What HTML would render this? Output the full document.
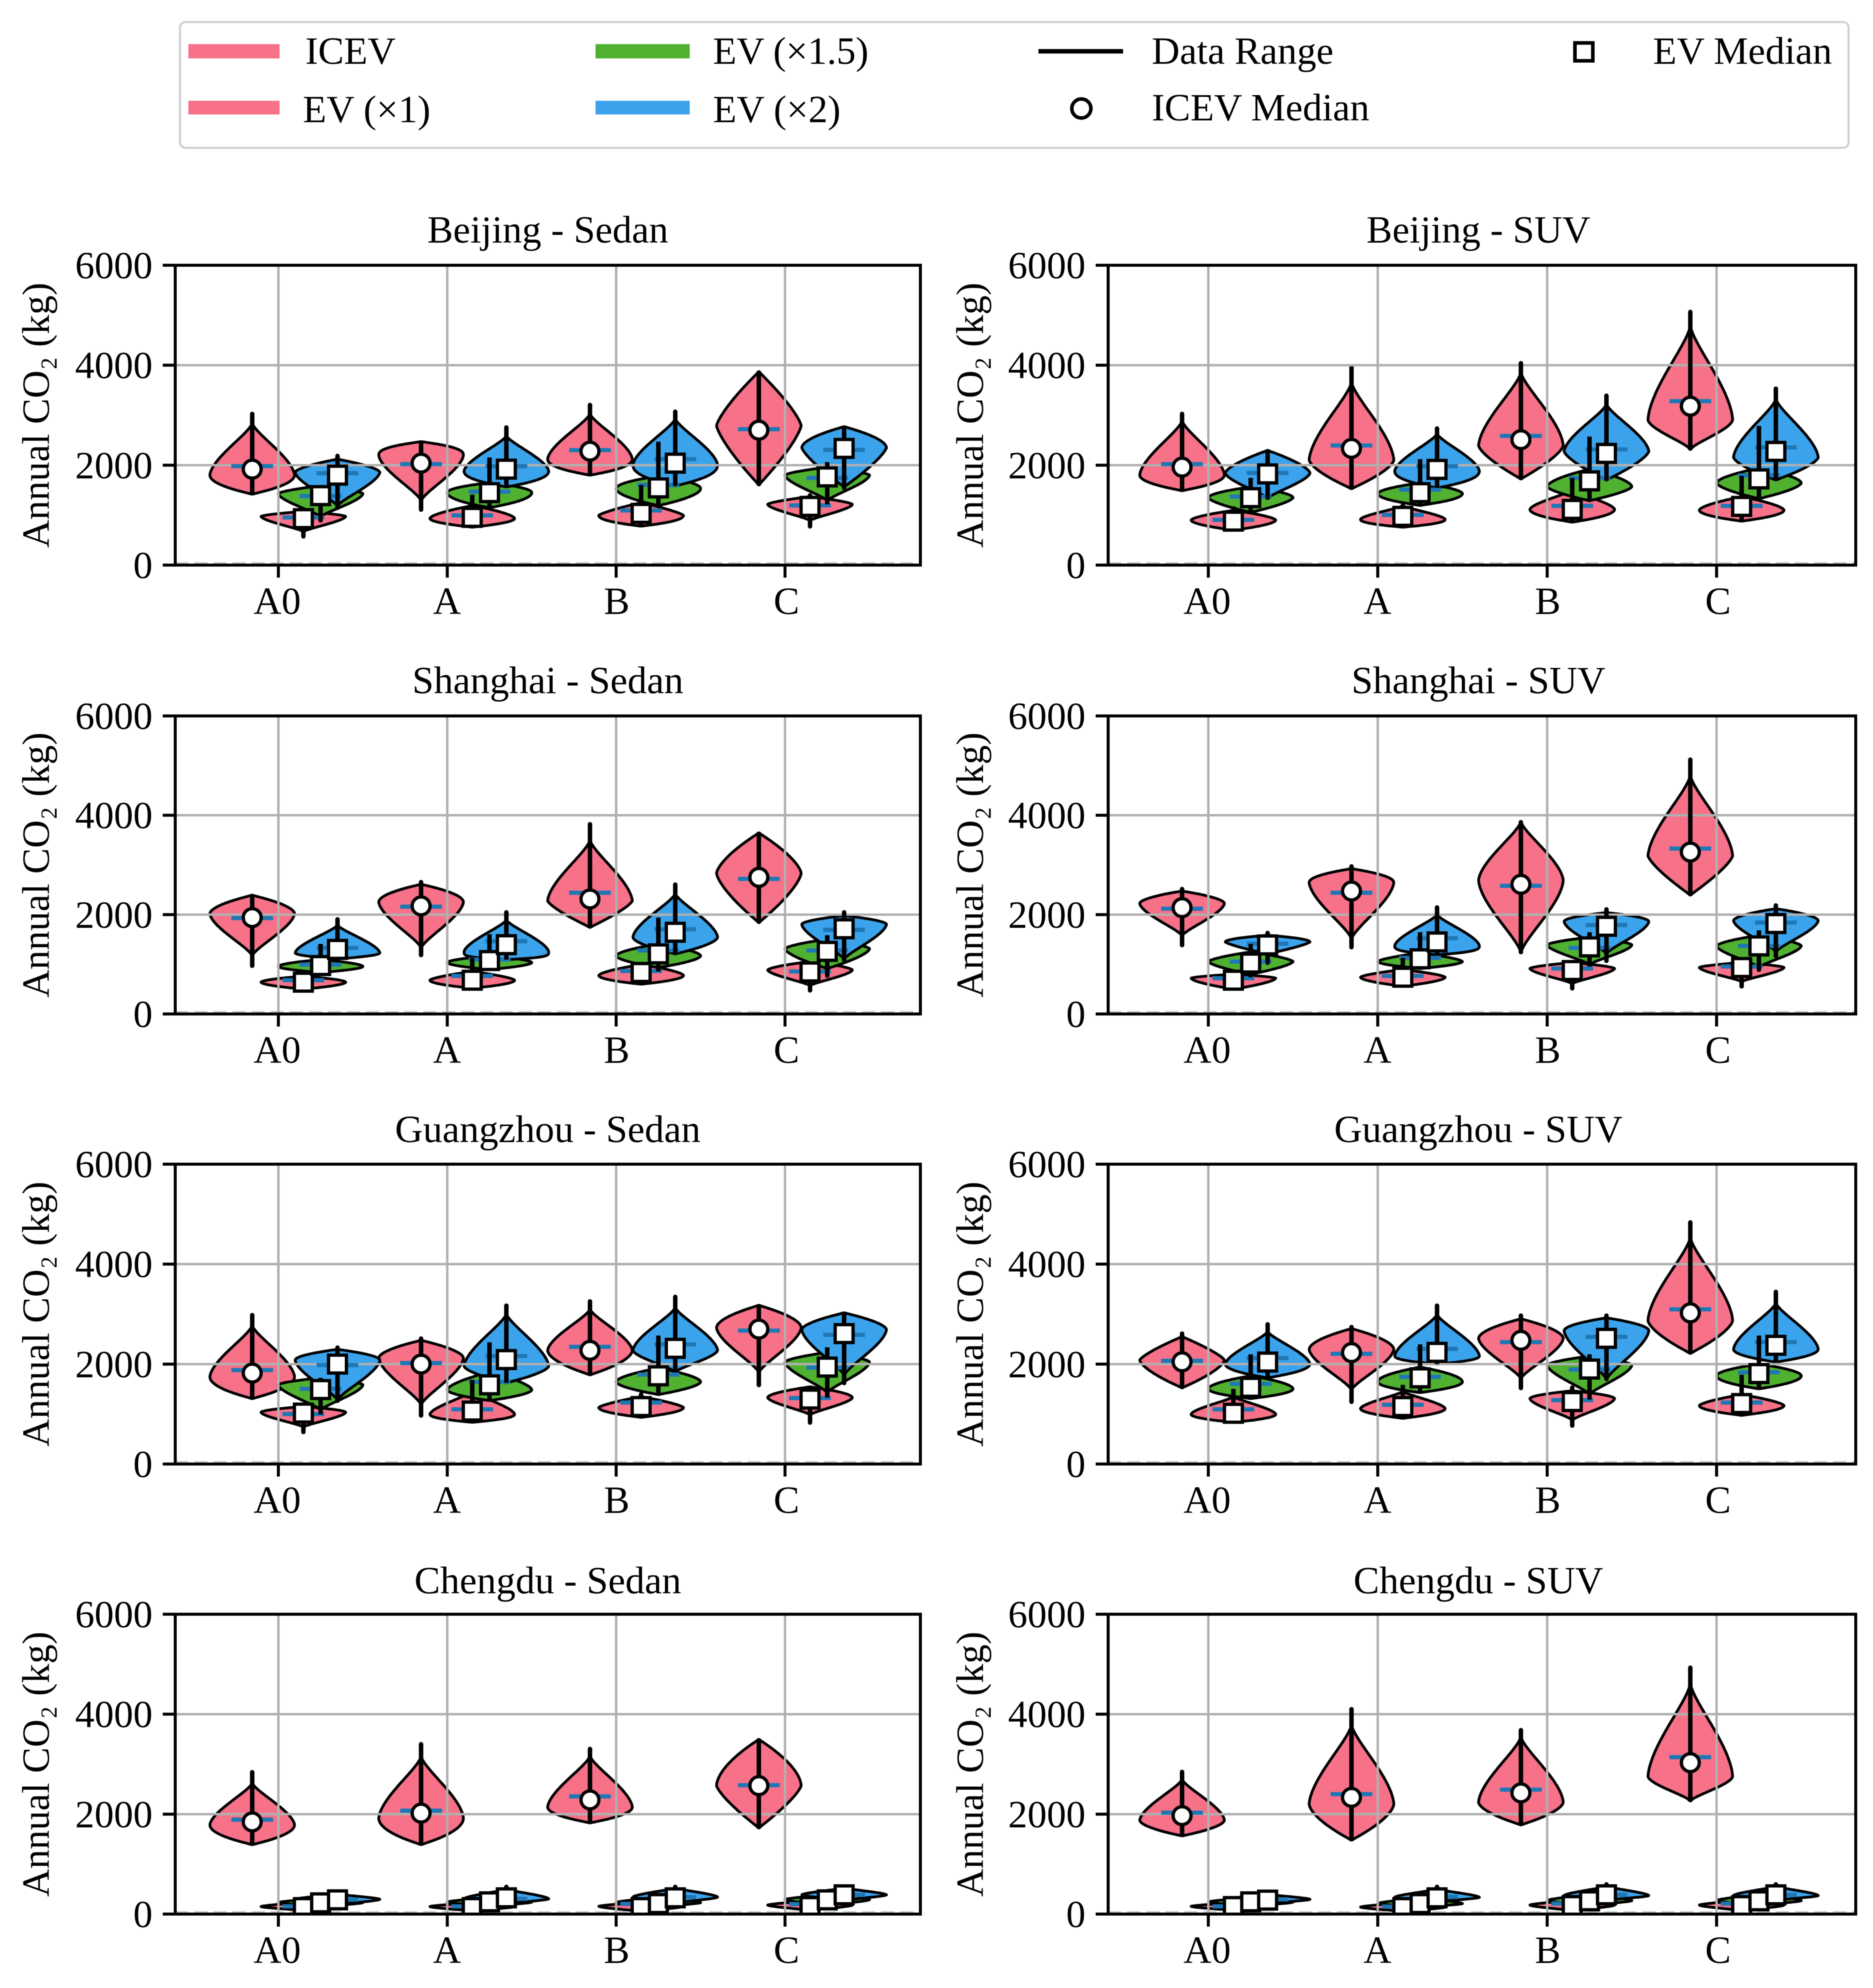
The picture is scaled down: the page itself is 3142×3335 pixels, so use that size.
<!DOCTYPE html>
<html lang="en">
<head>
<meta charset="utf-8">
<title>Annual CO2 violin charts by city and body type</title>
<style>
html,body{margin:0;padding:0;background:#fff;}
svg{display:block;filter:blur(0.9px);}
text{font-family:"Liberation Serif","DejaVu Serif",serif;fill:#000;font-size:65px;}
</style>
</head>
<body>
<svg id="chart" xmlns="http://www.w3.org/2000/svg" width="3142" height="3335" viewBox="0 0 3142 3335">
  <rect x="0" y="0" width="3142" height="3335" fill="#ffffff"/>
  <g id="legend">
    <rect x="302" y="37" width="2799" height="211" rx="9" fill="#fff" stroke="#cfcfcf" stroke-width="3.5"/>
    <rect x="316" y="74" width="153" height="24" fill="#f77189"/>
    <text x="512" y="107">ICEV</text>
    <rect x="316" y="169" width="153" height="23" fill="#f77189"/>
    <text x="508" y="205">EV (×1)</text>
    <rect x="999" y="74" width="158" height="24" fill="#50b131"/>
    <text x="1196" y="107" textLength="261">EV (×1.5)</text>
    <rect x="999" y="169" width="158" height="23" fill="#3ba3ec"/>
    <text x="1196" y="205">EV (×2)</text>
    <line x1="1742" y1="86" x2="1884" y2="86" stroke="#000" stroke-width="7.5"/>
    <text x="1932" y="107">Data Range</text>
    <circle cx="1814" cy="182" r="16" fill="#fff" stroke="#000" stroke-width="6"/>
    <text x="1932" y="202">ICEV Median</text>
    <rect x="2642" y="72" width="30" height="30" fill="#fff" stroke="#000" stroke-width="6"/>
    <text x="2773" y="107">EV Median</text>
  </g>
  <g id="panels"></g>
</svg>
<script>
const categories = ['A0', 'A', 'B', 'C'];
const seriesNames = ['icev', 'ev-1', 'ev-1-5', 'ev-2'];
const seriesColors = ['#f77189', '#f77189', '#50b131', '#3ba3ec'];
const seriesOffsets = [-0.155, 0.148, 0.25, 0.35];
const yTicks = [0, 2000, 4000, 6000];
const panelTitles = [
  'Beijing - Sedan', 'Beijing - SUV',
  'Shanghai - Sedan', 'Shanghai - SUV',
  'Guangzhou - Sedan', 'Guangzhou - SUV',
  'Chengdu - Sedan', 'Chengdu - SUV'
];

// Each row, in kg: [low, high, EV/ICEV median marker, median bar, widest level, body foot, body tip, top roundness, bottom roundness]
const beijingSedan = [
  [1420,3040,1920,1980,1800,1420,2710,1.1,2],
  [560,1075,930,955,975,740,1075,1.5,1.2],
  [880,1590,1390,1380,1430,1015,1590,1.5,1],
  [1130,2200,1800,1840,1860,1210,2120,1.6,1.1],
  [1095,2470,2040,2020,2200,1410,2470,2.5,1.1],
  [760,1410,955,995,935,760,1190,1.6,2],
  [1150,2155,1450,1470,1450,1150,1650,2,2],
  [1565,2770,1920,1980,1880,1565,2470,1.1,2.2],
  [1800,3220,2280,2300,2120,1800,2905,1.2,2.2],
  [780,1605,1035,1095,995,780,1250,1.3,2.2],
  [1190,2470,1545,1605,1530,1190,1780,2,1.8],
  [1585,3085,2040,2120,2000,1585,2830,1.15,2.2],
  [1605,3870,2700,2720,2790,1605,3870,1.3,1.3],
  [760,1410,1175,1195,1215,975,1370,1.5,1.1],
  [1215,2060,1765,1745,1800,1330,1960,1.5,1],
  [1530,2770,2335,2305,2350,1565,2770,1.8,1.3]
];
const beijingSUV = [
  [1490,3040,1960,2020,1800,1490,2790,1.2,2],
  [700,1175,880,905,900,700,1095,1.6,1.8],
  [1055,1745,1350,1370,1350,1055,1565,1.8,1.5],
  [1330,2295,1825,1845,1845,1330,2295,1.5,1.05],
  [1530,3970,2335,2395,2100,1530,3460,1.15,1.5],
  [760,1210,975,1005,915,760,1175,1.2,2.2],
  [1195,2120,1450,1510,1430,1195,1645,1.8,2],
  [1545,2750,1915,1980,1880,1545,2550,1.2,2.2],
  [1725,4055,2510,2585,2390,1725,3730,1.15,1.4],
  [860,1745,1115,1185,1115,860,1350,1.2,2],
  [1290,2570,1685,1745,1570,1290,1920,1.7,1.5],
  [1705,3405,2235,2315,2275,1705,3100,1.2,1.4],
  [2315,5080,3180,3280,2905,2315,4600,1.15,1.15],
  [880,1785,1175,1185,1100,880,1370,1.6,2],
  [1330,2785,1725,1795,1645,1330,1940,1.7,1.6],
  [1705,3545,2275,2355,2155,1705,3180,1.2,1.5]
];
const shanghaiSedan = [
  [955,2390,1940,1930,2020,1310,2390,1.8,1.1],
  [500,760,640,680,640,500,760,1.8,1.8],
  [835,1410,975,995,955,835,1095,1.8,1.8],
  [1110,1920,1300,1330,1230,1110,1705,1.1,2],
  [1170,2670,2175,2160,2255,1430,2610,1.9,1.1],
  [520,1130,680,765,680,520,855,1.5,2],
  [895,1605,1075,1095,1035,895,1170,1.8,1.8],
  [1095,2060,1395,1465,1250,1095,1785,1.05,4],
  [1745,3835,2315,2440,2275,1745,3280,1.2,1.3],
  [600,995,835,865,775,600,995,1.6,2],
  [855,1940,1210,1280,1170,935,1410,1.7,1.7],
  [1210,2620,1645,1705,1545,1210,2295,1.15,1.7],
  [1840,3645,2750,2720,2830,1840,3645,1.5,1.4],
  [460,1055,845,855,885,640,1055,1.6,1.1],
  [755,1585,1260,1280,1310,915,1505,1.6,1.5],
  [1075,2060,1715,1695,1805,1110,1980,1.8,1.2]
];
const shanghaiSUV = [
  [1370,2530,2140,2120,2225,1705,2475,1.8,1.2],
  [500,875,680,720,720,500,800,1.6,1.6],
  [740,1410,1025,1055,1055,800,1250,1.5,1.5],
  [1015,1645,1390,1415,1450,1210,1585,2,1.3],
  [1330,2985,2475,2440,2650,1625,2925,2,1.2],
  [560,1130,740,765,740,560,895,1.5,1.8],
  [915,1645,1110,1130,1055,915,1230,1.5,1.8],
  [1190,2160,1450,1525,1370,1190,1900,1.1,3],
  [1230,3875,2610,2580,2690,1230,3875,1.1,1.1],
  [500,1035,875,915,915,680,1035,1.6,1.1],
  [955,1645,1350,1330,1390,1015,1545,1.6,1.1],
  [1055,2120,1765,1790,1860,1310,2040,2,1.1],
  [2395,5135,3260,3330,3180,2395,4585,1.2,1.3],
  [540,1035,935,955,935,720,1035,1.6,1.1],
  [875,1685,1370,1370,1370,975,1585,1.6,1.1],
  [1150,2200,1820,1840,1880,1310,2120,1.8,1.1]
];
const guangzhouSedan = [
  [1310,2995,1820,1880,1745,1310,2630,1.15,2],
  [625,1150,1020,1000,1035,815,1150,1.8,1.2],
  [995,1725,1490,1505,1585,1130,1725,1.6,1],
  [1250,2345,2000,1980,2080,1290,2295,1.9,1.1],
  [955,2525,2000,2020,2120,1330,2475,1.8,1.05],
  [835,1685,1060,1095,995,835,1310,1.1,2.2],
  [1270,2435,1585,1645,1485,1270,1840,1.6,1.8],
  [1625,3185,2090,2160,1960,1625,2890,1.1,1.6],
  [1785,3270,2275,2345,2275,1785,2985,1.15,1.8],
  [935,1410,1150,1230,1130,935,1350,1.4,2],
  [1390,2570,1765,1790,1645,1390,1920,1.7,1.7],
  [1840,3360,2315,2395,2275,1840,2985,1.1,1.2],
  [1565,3175,2700,2670,2730,2000,3175,1.8,1.15],
  [815,1545,1300,1320,1330,1095,1545,1.8,1.2],
  [1330,2335,1940,1930,2040,1485,2235,1.6,1.05],
  [1605,3025,2610,2585,2690,1880,3025,1.7,1.1]
];
const guangzhouSUV = [
  [1525,2625,2045,2065,2080,1525,2550,1.3,1.5],
  [835,1505,1015,1095,995,835,1250,1.1,2],
  [1310,2195,1535,1605,1505,1310,1765,1.8,2],
  [1725,2810,2040,2120,2000,1725,2550,1.15,2],
  [1230,2755,2230,2205,2295,1645,2710,1.8,1.1],
  [915,1585,1150,1185,1110,915,1370,1.2,2],
  [1430,2395,1725,1745,1645,1430,1940,1.9,2],
  [2000,3185,2235,2305,2160,2000,2870,1.1,2.2],
  [1505,2985,2475,2440,2515,1840,2905,1.8,1.1],
  [755,1545,1250,1280,1310,955,1465,1.8,1.1],
  [1290,2195,1900,1890,1980,1450,2160,1.6,1.05],
  [1685,2985,2515,2545,2670,1685,2925,1.9,1.15],
  [2215,4850,3025,3095,2870,2215,4330,1.15,1.5],
  [975,1785,1210,1230,1170,975,1390,1.5,2],
  [1505,2570,1810,1835,1765,1505,2000,1.9,2],
  [2040,3460,2375,2440,2295,2040,3065,1.2,2]
];
const chengduSedan = [
  [1390,2855,1845,1890,1785,1390,2470,1.2,2],
  [70,240,130,155,150,70,240],
  [140,340,225,230,230,150,310],
  [170,420,285,290,295,200,390],
  [1390,3415,2020,2070,1920,1390,2985,1.2,2],
  [60,230,130,155,150,60,230],
  [150,350,245,240,240,160,330],
  [190,560,325,305,305,220,460],
  [1825,3320,2285,2355,2140,1825,3065,1.2,2],
  [50,240,130,205,155,50,240],
  [140,360,210,230,230,150,330],
  [210,560,325,340,340,230,500],
  [1725,3495,2570,2580,2570,1725,3495,1.7,1.3],
  [70,270,150,200,180,70,270],
  [160,420,285,300,290,180,380],
  [270,560,385,385,385,280,500]
];
const chengduSUV = [
  [1565,2860,1970,2030,1880,1565,2590,1.2,1.8],
  [70,230,150,155,155,70,230],
  [150,360,245,240,240,160,330],
  [200,420,280,295,295,220,380],
  [1480,4115,2335,2400,2200,1480,3575,1.2,1.6],
  [50,230,130,150,140,50,230],
  [130,360,210,230,210,140,310],
  [240,560,325,345,335,250,460],
  [1785,3695,2425,2490,2240,1785,3455,1.2,1.7],
  [60,280,170,210,180,70,280],
  [160,440,265,285,270,180,380],
  [270,610,385,385,370,280,520],
  [2265,4945,3030,3140,2750,2265,4400,1.15,1.2],
  [60,280,170,210,180,70,280],
  [160,440,265,285,270,180,380],
  [270,610,385,385,370,280,520]
];
const panelData = [beijingSedan, beijingSUV, shanghaiSedan, shanghaiSUV, guangzhouSedan, guangzhouSUV, chengduSedan, chengduSUV];

const NS = 'http://www.w3.org/2000/svg';
const rowBottoms = [948, 1701, 2456, 3211];
const rowHeights = [503, 500, 503, 503];
const titleBaselines = [407, 1163, 1916, 2673];
const columns = [
  { left: 294, right: 1544, x0: 467, step: 283.3, label: 82, titleX: 919 },
  { left: 1859, right: 3113, x0: 2027, step: 284.2, label: 1649, titleX: 2480 }
];
const yMax = 6000;
const violinHalf = 71;

function mk(tag, attrs, parent) {
  const el = document.createElementNS(NS, tag);
  for (const k in attrs) el.setAttribute(k, attrs[k]);
  parent.appendChild(el);
  return el;
}

function slug(s) {
  return s.toLowerCase().replace(/[^a-z0-9]+/g, '-');
}

// side profile: p below 1.3 gives a bullet shape running into a concave spire, otherwise a rounded cap
function sideWidth(dist, reach, p) {
  if (reach <= 0 || dist > reach) return 0;
  const t = dist / reach;
  if (p < 1.3) return Math.pow(1 - Math.pow(t, 1.6), 1.4);
  return 1 - Math.pow(t, p);
}

function densityAt(v, r) {
  const lo = r[0], hi = r[1], mode = r[4], foot = r[5], tip = r[6];
  const pUp = r[7] === undefined ? 1.1 : r[7];
  const pDown = r[8] === undefined ? 1.1 : r[8];
  let w;
  if (v >= mode) {
    const end = pUp < 1.3 ? tip + 0.4 * (hi - tip) : tip;
    w = sideWidth(v - mode, end - mode, pUp);
  } else {
    const end = pDown < 1.3 ? foot - 0.4 * (foot - lo) : foot;
    w = sideWidth(mode - v, mode - end, pDown);
  }
  return Math.max(w, 0.012);
}

function violinPath(r, cx, yScale) {
  const lo = r[0], hi = r[1];
  const levels = [r[4], r[5], r[6]];
  const n = 60;
  for (let i = 0; i <= n; i++) levels.push(lo + (hi - lo) * i / n);
  const sorted = levels.filter(v => v >= lo && v <= hi).sort((a, b) => a - b);
  const rightSide = sorted.map(v => (cx + violinHalf * densityAt(v, r)).toFixed(1) + ' ' + yScale(v).toFixed(1));
  const leftSide = sorted.slice().reverse().map(v => (cx - violinHalf * densityAt(v, r)).toFixed(1) + ' ' + yScale(v).toFixed(1));
  return 'M' + rightSide.concat(leftSide).join('L') + 'Z';
}

const panelsRoot = document.getElementById('panels');

panelTitles.forEach(function (title, p) {
  const col = columns[p % 2];
  const rowIdx = Math.floor(p / 2);
  const bottom = rowBottoms[rowIdx];
  const axisHeight = rowHeights[rowIdx];
  const top = bottom - axisHeight;
  const rows = panelData[p];
  const yScale = v => bottom - v * axisHeight / yMax;
  const xScale = pos => col.x0 + pos * col.step;
  const base = slug(title);

  const g = mk('g', {}, panelsRoot);
  
  

  const clipId = 'clip-' + p;
  const clip = mk('clipPath', { id: clipId }, g);
  mk('rect', { x: col.left, y: top, width: col.right - col.left, height: axisHeight }, clip);

  const titleEl = mk('text', { x: col.titleX, y: titleBaselines[rowIdx], 'text-anchor': 'middle' }, g);
  titleEl.textContent = title;
  
  

  const ylab = mk('text', {
    x: 0, y: 0, 'text-anchor': 'middle',
    transform: 'translate(' + col.label + ' ' + (top + axisHeight / 2) + ') rotate(-90)'
  }, g);
  ylab.textContent = 'Annual CO₂ (kg)';
  
  

  const marks = mk('g', { 'clip-path': 'url(#' + clipId + ')' }, g);
  
  

  // violin bodies go under the grid, as in the source figure
  seriesNames.forEach(function (sName, s) {
    categories.forEach(function (cat, c) {
      const r = rows[c * 4 + s];
      const cx = xScale(c + seriesOffsets[s]);
      const body = mk('path', {
        d: violinPath(r, cx, yScale), fill: seriesColors[s], stroke: '#000',
        'stroke-width': 4.6, 'stroke-linejoin': 'round'
      }, marks);
      
      
    });
  });

  // zero reference line
  const zero = mk('line', {
    x1: col.left, x2: col.right, y1: yScale(0) - 3, y2: yScale(0) - 3,
    stroke: '#cccccc', 'stroke-width': 4, 'stroke-dasharray': '22 10'
  }, marks);
  
  

  // grid
  yTicks.forEach(function (t) {
    const gl = mk('line', {
      x1: col.left, x2: col.right, y1: yScale(t), y2: yScale(t),
      stroke: '#b0b0b0', 'stroke-width': 4
    }, marks);
    
    
  });
  categories.forEach(function (cat, c) {
    const gl = mk('line', {
      x1: xScale(c), x2: xScale(c), y1: top, y2: bottom,
      stroke: '#b0b0b0', 'stroke-width': 4
    }, marks);
    
    
  });

  // median bars
  seriesNames.forEach(function (sName, s) {
    categories.forEach(function (cat, c) {
      const r = rows[c * 4 + s];
      const cx = xScale(c + seriesOffsets[s]);
      const bar = mk('line', {
        x1: cx - 35, x2: cx + 35, y1: yScale(r[3]), y2: yScale(r[3]),
        stroke: '#1f77b4', 'stroke-width': 7
      }, marks);
      
      
    });
  });

  // data range whiskers
  seriesNames.forEach(function (sName, s) {
    categories.forEach(function (cat, c) {
      const r = rows[c * 4 + s];
      const cx = xScale(c + seriesOffsets[s]);
      const wh = mk('line', {
        x1: cx, x2: cx, y1: yScale(r[0]), y2: yScale(r[1]),
        stroke: '#000', 'stroke-width': 7.5
      }, marks);
      
      
    });
  });

  // median markers
  seriesNames.forEach(function (sName, s) {
    categories.forEach(function (cat, c) {
      const r = rows[c * 4 + s];
      const cx = xScale(c + seriesOffsets[s]);
      const cy = yScale(r[2]);
      let m;
      if (s === 0) {
        m = mk('circle', { cx: cx, cy: cy, r: 15, fill: '#fff', stroke: '#000', 'stroke-width': 5.5 }, marks);
      } else {
        m = mk('rect', { x: cx - 15, y: cy - 15, width: 30, height: 30, fill: '#fff', stroke: '#000', 'stroke-width': 5.5 }, marks);
      }
      
      
    });
  });

  // frame, ticks and labels
  const frame = mk('rect', {
    x: col.left, y: top, width: col.right - col.left, height: axisHeight,
    fill: 'none', stroke: '#000', 'stroke-width': 5
  }, g);
  
  

  yTicks.forEach(function (t) {
    const tk = mk('line', {
      x1: col.left - 21, x2: col.left, y1: yScale(t), y2: yScale(t),
      stroke: '#000', 'stroke-width': 5
    }, g);
    
    
    const lb = mk('text', { x: col.left - 38, y: yScale(t) + 22, 'text-anchor': 'end' }, g);
    lb.textContent = String(t);
    
    
  });

  categories.forEach(function (cat, c) {
    const tk = mk('line', {
      x1: xScale(c), x2: xScale(c), y1: bottom, y2: bottom + 21,
      stroke: '#000', 'stroke-width': 5
    }, g);
    
    
    const lb = mk('text', { x: xScale(c) - 2 + c * 1.5, y: bottom + 82, 'text-anchor': 'middle' }, g);
    lb.textContent = cat;
    
    
  });
});
</script>
</body>
</html>
